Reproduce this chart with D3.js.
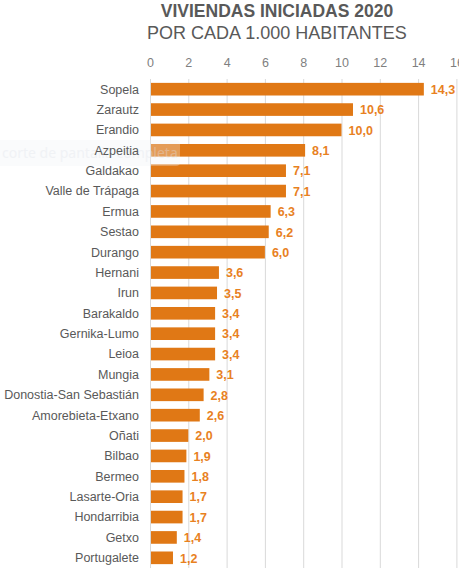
<!DOCTYPE html>
<html>
<head>
<meta charset="utf-8">
<script src="https://cdn.jsdelivr.net/npm/d3@7"></script>
<style>
	html, body { margin: 0; padding: 0; background: #fff; }
	svg { display: block; font-family: "Liberation Sans", Arial, sans-serif; }
</style>
</head>
<body>
<svg></svg>
<script>
// Data
const municipios = ["Sopela", "Zarautz", "Erandio", "Azpeitia", "Galdakao", "Valle de Trápaga",
	"Ermua", "Sestao", "Durango", "Hernani", "Irun", "Barakaldo", "Gernika-Lumo", "Leioa",
	"Mungia", "Donostia-San Sebastián", "Amorebieta-Etxano", "Oñati", "Bilbao", "Bermeo",
	"Lasarte-Oria", "Hondarribia", "Getxo", "Portugalete"];
const viviendas = [14.3, 10.6, 10.0, 8.1, 7.1, 7.1, 6.3, 6.2, 6.0, 3.6, 3.5, 3.4, 3.4, 3.4,
	3.1, 2.8, 2.6, 2.0, 1.9, 1.8, 1.7, 1.7, 1.4, 1.2];
const ticks = [0, 2, 4, 6, 8, 10, 12, 14, 16];

const svgWidth = 459;
const svgHeight = 577;
const margins = {top: 79, right: 3, bottom: 9, left: 150};

const orange = "#e07815";
const gray = "#595959";

const esLocale = d3.formatLocale({decimal: ",", thousands: ".", grouping: [3], currency: ["", "€"]});
const fmt = esLocale.format(".1f");

const data = municipios.map((m, i) => ({name: m, value: viviendas[i]}));

const scaleX = d3.scaleLinear()
	.domain([0, 16])
	.range([margins.left, margins.left + 16 * 19.15]);

const scaleY = d3.scaleBand()
	.domain(municipios)
	.range([margins.top, svgHeight - margins.bottom])
	.paddingInner(0.38)
	.paddingOuter(0.19);

const chart = d3.select("svg")
	.attr("width", svgWidth)
	.attr("height", svgHeight);

// Titles
chart.append("text")
	.attr("x", 277)
	.attr("y", 17)
	.attr("text-anchor", "middle")
	.attr("font-size", 17.5)
	.attr("font-weight", "bold")
	.attr("fill", gray)
	.text("VIVIENDAS INICIADAS 2020");

chart.append("text")
	.attr("x", 277)
	.attr("y", 39)
	.attr("text-anchor", "middle")
	.attr("font-size", 18)
	.attr("fill", gray)
	.text("POR CADA 1.000 HABITANTES");

// Gridlines
chart.append("g")
	.selectAll("line")
	.data(ticks)
	.join("line")
	.attr("x1", d => scaleX(d) + 0.5)
	.attr("x2", d => scaleX(d) + 0.5)
	.attr("y1", margins.top)
	.attr("y2", svgHeight - margins.bottom)
	.attr("stroke", "#d9d9d9")
	.attr("stroke-width", 1);

// Top axis
chart.append("g")
	.attr("transform", `translate(0, ${margins.top - 12})`)
	.call(d3.axisTop(scaleX).tickValues(ticks).tickSize(0).tickPadding(0))
	.call(g => g.select(".domain").remove())
	.call(g => g.selectAll("text")
		.attr("font-family", "Liberation Sans, Arial, sans-serif")
		.attr("font-size", 12.5)
		.attr("fill", "#7f7f7f"));

// Bars
chart.append("g")
	.selectAll("rect")
	.data(data)
	.join("rect")
	.attr("x", scaleX(0) + 1)
	.attr("y", d => scaleY(d.name))
	.attr("width", d => scaleX(d.value) - scaleX(0) - 1)
	.attr("height", scaleY.bandwidth())
	.attr("fill", orange);

// Faint screenshot-tool overlay (drawn under the labels)
chart.append("rect")
	.attr("x", -6)
	.attr("y", 140)
	.attr("width", 186)
	.attr("height", 26)
	.attr("rx", 4)
	.attr("fill", "#eef1f5")
	.attr("opacity", 0.3);

chart.append("text")
	.attr("x", 2)
	.attr("y", 158)
	.attr("font-family", "Noto Sans, sans-serif")
	.attr("font-size", 14)
	.attr("fill", "#dfe3ea")
	.attr("opacity", 0.35)
	.text("corte de pantalla completa");

// Category labels
chart.append("g")
	.selectAll("text")
	.data(data)
	.join("text")
	.attr("x", margins.left - 11)
	.attr("y", d => scaleY(d.name) + scaleY.bandwidth() / 2)
	.attr("dy", "0.35em")
	.attr("text-anchor", "end")
	.attr("font-size", 12.5)
	.attr("fill", gray)
	.text(d => d.name);

// Value labels
chart.append("g")
	.selectAll("text")
	.data(data)
	.join("text")
	.attr("x", d => scaleX(d.value) + 7)
	.attr("y", d => scaleY(d.name) + scaleY.bandwidth() / 2)
	.attr("dy", "0.38em")
	.attr("font-size", 12.5)
	.attr("font-weight", "bold")
	.attr("fill", "#e8811f")
	.text(d => fmt(d.value));
</script>
</body>
</html>
